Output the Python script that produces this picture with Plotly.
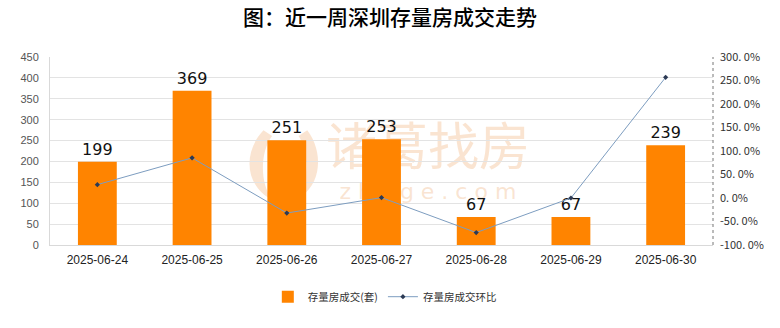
import plotly.graph_objects as go

# Daily second-hand housing transactions in Shenzhen over the last week
dates = ["2025-06-24", "2025-06-25", "2025-06-26", "2025-06-27",
         "2025-06-28", "2025-06-29", "2025-06-30"]
deals = [199, 369, 251, 253, 67, 67, 239]
# Day-over-day change, percent
change_pct = [28.4, 85.4, -32.0, 0.8, -73.5, 0.0, 256.7]

left_ticks = [0, 50, 100, 150, 200, 250, 300, 350, 400, 450]
right_ticks = [-100, -50, 0, 50, 100, 150, 200, 250, 300]
right_tick_text = ["-100. 0%", "-50. 0%", "0. 0%", "50. 0%", "100. 0%",
                   "150. 0%", "200. 0%", "250. 0%", "300. 0%"]

ORANGE = "#ff8400"
LINE_BLUE = "#7d9dc0"
MARKER_DARK = "#2c3a55"
WATERMARK = "rgba(242,190,145,0.42)"
CJK = "Noto Sans CJK SC"

fig = go.Figure()

fig.add_trace(go.Bar(
    x=dates, y=deals, name="存量房成交(套)",
    marker=dict(color=ORANGE, line=dict(width=0)),
    text=[str(v) for v in deals], textposition="outside",
    textfont=dict(family="DejaVu Sans", size=16, color="#111111"),
    cliponaxis=False, yaxis="y",
))

fig.add_trace(go.Scatter(
    x=dates, y=change_pct, name="存量房成交环比", yaxis="y2",
    mode="lines+markers",
    line=dict(color=LINE_BLUE, width=1),
    marker=dict(symbol="diamond", size=4, color=MARKER_DARK),
    cliponaxis=False,
))

shapes = [
    # dotted right-hand axis line
    dict(type="line", xref="paper", yref="paper", x0=1, x1=1, y0=0, y1=1,
         line=dict(color="#777777", width=1, dash="dot"), layer="above"),
    # watermark logo: leaf shaped outline
    dict(type="path", xref="paper", yref="paper", layer="below",
         path="M 0.322,0.61 C 0.292,0.50 0.292,0.32 0.335,0.24 "
              "C 0.315,0.34 0.318,0.50 0.335,0.58 Z",
         fillcolor=WATERMARK, line=dict(width=0)),
    dict(type="path", xref="paper", yref="paper", layer="below",
         path="M 0.388,0.61 C 0.412,0.50 0.412,0.32 0.372,0.24 "
              "C 0.392,0.34 0.390,0.50 0.375,0.58 Z",
         fillcolor=WATERMARK, line=dict(width=0)),
    # watermark wordmark
    dict(type="rect", xref="paper", yref="paper", layer="below",
         x0=0.40, x1=0.74, y0=0.39, y1=0.61,
         line=dict(width=0), fillcolor="rgba(0,0,0,0)",
         label=dict(text="诸葛找房", textposition="middle center",
                    font=dict(family=CJK, size=51, color=WATERMARK))),
    dict(type="rect", xref="paper", yref="paper", layer="below",
         x0=0.40, x1=0.74, y0=0.25, y1=0.34,
         line=dict(width=0), fillcolor="rgba(0,0,0,0)",
         label=dict(text="z h u g e . c o m", textposition="middle center",
                    font=dict(family="DejaVu Sans", size=22, color=WATERMARK))),
]

fig.update_layout(
    width=780, height=328,
    margin=dict(l=50, r=67, t=57, b=83),
    paper_bgcolor="white", plot_bgcolor="rgba(0,0,0,0)",
    title=dict(text="图：近一周深圳存量房成交走势", x=0.5, xanchor="center",
               y=0.945, yanchor="middle",
               font=dict(family=CJK, size=21, color="#000000", weight=500)),
    bargap=0.59,
    showlegend=True,
    legend=dict(orientation="h", x=0.505, xanchor="center", y=-0.275,
                yanchor="middle", font=dict(family=CJK, size=10.5, color="#333333"),
                itemwidth=30, traceorder="normal", bgcolor="rgba(0,0,0,0)"),
    xaxis=dict(type="category", showgrid=False, showline=True,
               linecolor="#d9d9d9", linewidth=1, ticks="",
               ticklabelstandoff=4,
               tickfont=dict(family="Liberation Sans", size=12, color="#222222")),
    yaxis=dict(range=[0, 450], tickvals=left_ticks, showgrid=True,
               gridcolor="#e3e3e3", gridwidth=1, zeroline=False,
               showline=True, linecolor="#d9d9d9", linewidth=1,
               ticks="", ticklabelstandoff=8,
               tickfont=dict(family="Liberation Sans", size=11, color="#555555")),
    yaxis2=dict(overlaying="y", side="right", range=[-100, 300],
                tickvals=right_ticks, ticktext=right_tick_text,
                showgrid=False, zeroline=False, showline=False, ticks="",
                ticklabelstandoff=6,
                tickfont=dict(family="Noto Sans CJK JP", size=11, color="#333333")),
    shapes=shapes,
)

fig.write_html("out.html")
